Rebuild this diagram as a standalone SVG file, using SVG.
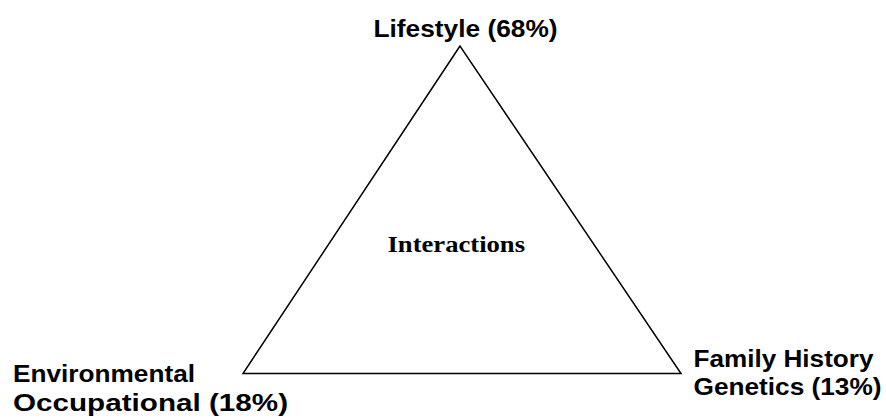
<svg xmlns="http://www.w3.org/2000/svg" width="886" height="419" viewBox="0 0 886 419">
  <style>
    .lbl { font-family: "Liberation Sans", Arial, sans-serif; font-weight: bold; font-size: 23.5px; fill: #000; }
    .mid { font-family: "Liberation Serif", "Times New Roman", serif; font-weight: bold; font-size: 23.5px; fill: #000; }
    .edge { fill: none; stroke: #000; stroke-width: 1.5; stroke-linejoin: miter; }
  </style>
  <rect width="886" height="419" fill="#fff"/>
  <g id="connectors">
    <polygon class="edge" points="460,46 243,373.5 681,373.5"/>
  </g>
  <g id="lifestyle">
    <text class="lbl" x="373.5" y="36.5" textLength="184" lengthAdjust="spacingAndGlyphs">Lifestyle (68%)</text>
  </g>
  <g id="interactions">
    <text class="mid" x="387.5" y="251.5" textLength="137.5" lengthAdjust="spacingAndGlyphs">Interactions</text>
  </g>
  <g id="environmental">
    <text class="lbl" x="13" y="381.5" textLength="182" lengthAdjust="spacingAndGlyphs">Environmental</text>
    <text class="lbl" x="13" y="410.5" textLength="275" lengthAdjust="spacingAndGlyphs">Occupational (18%)</text>
  </g>
  <g id="family">
    <text class="lbl" x="693.5" y="366.5" textLength="180" lengthAdjust="spacingAndGlyphs">Family History</text>
    <text class="lbl" x="693.5" y="395" textLength="188" lengthAdjust="spacingAndGlyphs">Genetics (13%)</text>
  </g>
</svg>
